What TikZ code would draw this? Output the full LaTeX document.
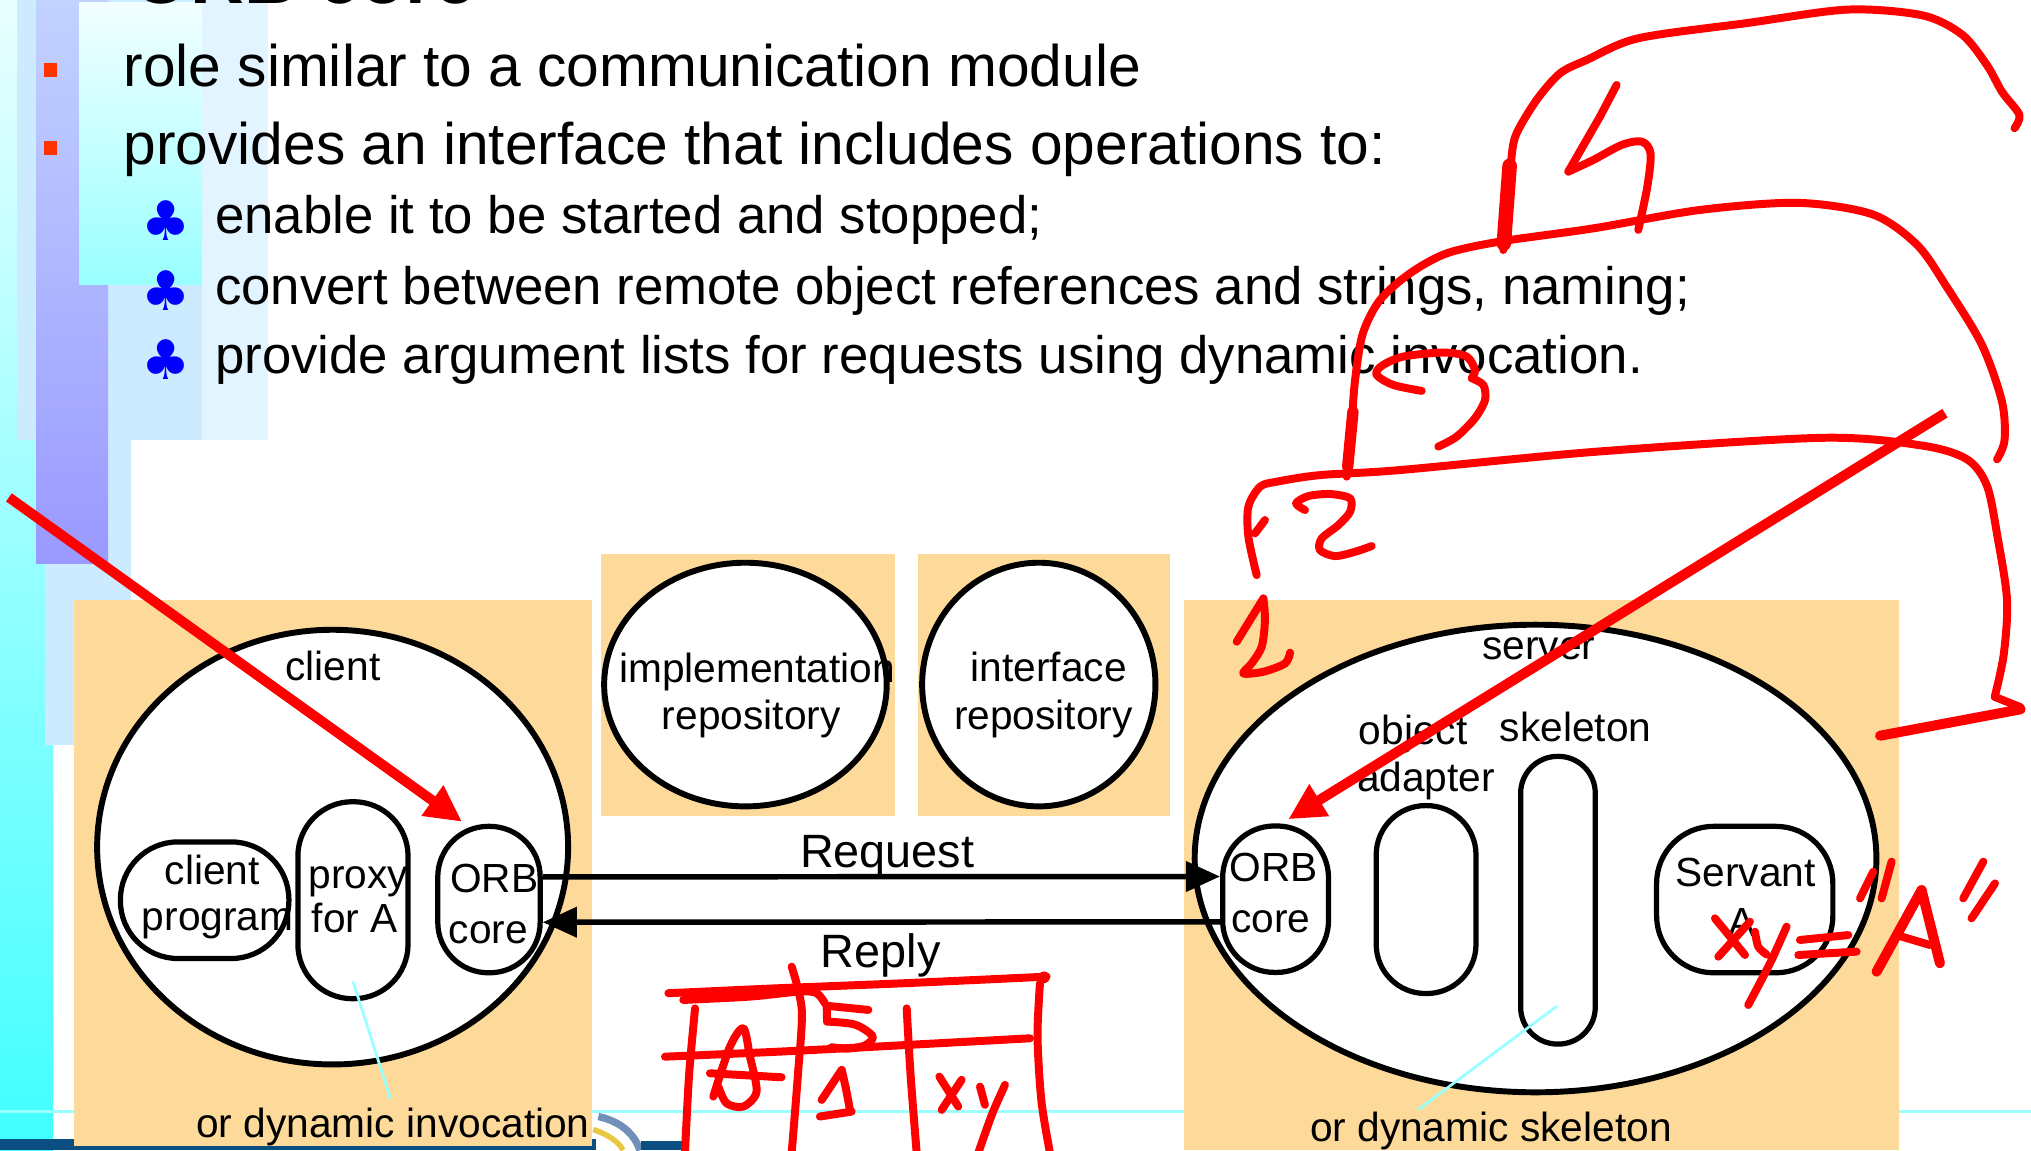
\documentclass[tikz,border=0pt]{standalone}
\usepackage{fontspec}
\setmainfont{Liberation Sans}
\newfontfamily\symfont{DejaVu Sans}
\usetikzlibrary{shapes.geometric,arrows.meta,calc}

\definecolor{orangebg}{HTML}{FDDA9A}
\definecolor{inkred}{HTML}{FF0000}
\definecolor{bulletred}{HTML}{FF3300}
\definecolor{clubblue}{HTML}{0000FF}
\definecolor{leadcyan}{HTML}{99FFFF}
\definecolor{paleblue}{HTML}{CCEBFF}
\definecolor{palerblue}{HTML}{E2F4FF}
\definecolor{cyantop}{HTML}{EAFFFF}
\definecolor{cyanbot}{HTML}{40FFFF}
\definecolor{violettop}{HTML}{C2D2FF}
\definecolor{violetbot}{HTML}{9A99FF}
\definecolor{glowtop}{HTML}{F2FFFF}
\definecolor{glowbot}{HTML}{99FFFF}
\definecolor{bandblue}{HTML}{0B4F82}
\definecolor{logoblue}{HTML}{7090B8}
\definecolor{logoyellow}{HTML}{E8C840}

\begin{document}
\begin{tikzpicture}[x=0.01cm,y=-0.01cm,
  orangebox/.style={fill=orangebg},
  bigell/.style={ellipse, draw=black, line width=1.3pt, fill=white, inner sep=0pt},
  pill/.style={rectangle, draw=black, line width=1.15pt, fill=white, inner sep=0pt},
  lbl/.style={font=\fontsize{8.93}{10}\selectfont, inner sep=0pt, anchor=base},
  msg/.style={font=\fontsize{10.27}{12}\selectfont, inner sep=0pt, anchor=base},
  bodytext/.style={font=\fontsize{12.88}{15}\selectfont, inner sep=0pt, anchor=base west},
  subtext/.style={font=\fontsize{11.58}{14}\selectfont, inner sep=0pt, anchor=base west},
  titletext/.style={font=\fontsize{16.36}{18}\selectfont\bfseries, inner sep=0pt, anchor=base west},
  sqbullet/.style={fill=bulletred, inner sep=0pt, minimum size=0.103cm},
  clubmark/.style={text=clubblue, inner sep=0pt, font=\symfont\fontsize{12}{12}\selectfont},
  conn/.style={draw=black, line width=1.2pt, -{Triangle[length=7.5pt,width=6.5pt]}},
  leader/.style={draw=leadcyan, line width=0.6pt},
  ink/.style={draw=inkred, line width=1.75pt, line cap=round, line join=round},
  inkarrow/.style={draw=inkred, line width=2.2pt, -{Triangle[length=8pt,width=7.7pt]}},
]
\clip (0,0) rectangle (1568,888);
\fill[white] (0,0) rectangle (1568,888);

% ---- slide template strip on the left ----
\shade[top color=cyantop, bottom color=cyanbot] (0,0) rectangle (41,888);
\fill[paleblue] (13,0) rectangle (207,340);
\fill[palerblue] (156,0) rectangle (207,340);
\fill[paleblue] (83.4,340) rectangle (101,435.4);
\fill[paleblue] (35,435.4) rectangle (101,575);
\shade[top color=violettop, bottom color=violetbot] (28,0) rectangle (83.4,435.4);
\shade[top color=glowtop, bottom color=glowbot] (61,2.3) rectangle (156,220);
\draw[leadcyan, line width=0.6pt] (0,858) -- (1568,858);
\fill[bandblue] (0,879) rectangle (460,888);
\draw[logoblue, line width=1.6pt] (462,862) .. controls (480,866) and (490,876) .. (494,888);
\draw[logoyellow, line width=1.2pt] (458,872) .. controls (470,876) and (478,882) .. (481,888);
\fill[bandblue] (495,881) rectangle (527,888);

% ---- title and bullet list ----
\node[titletext] (title) at (101.7,3) {ORB core};
\node[sqbullet] (b1) at (39,54) {};
\node[sqbullet] (b2) at (39,114.2) {};
\node[bodytext] (t1) at (94.8,66.5) {role similar to a communication module};
\node[bodytext] (t2) at (94.8,127) {provides an interface that includes operations to:};
\node[clubmark] (c1) at (128.5,170.6) {♣};
\node[clubmark] (c2) at (128.5,224) {♣};
\node[clubmark] (c3) at (128.5,278) {♣};
\node[subtext] (s1) at (165.4,180.2) {enable it to be started and stopped;};
\node[subtext] (s2) at (165.4,234.9) {convert between remote object references and strings, naming;};
\node[subtext] (s3) at (165.4,288) {provide argument lists for requests using dynamic invocation.};

% ---- component panels ----
\fill[orangebox] (57,463) rectangle (457,884.7);
\fill[orangebox] (464,428) rectangle (691,630);
\fill[orangebox] (709,428) rectangle (903,630);
\fill[orangebox] (914,463) rectangle (1466,888);

% ---- client side ----
\node[bigell, minimum width=3.634cm, minimum height=3.354cm] (clientE) at (256.8,654) {};
\node[pill, minimum width=1.30cm, minimum height=0.90cm, rounded corners=0.445cm] (cprog) at (158,695) {};
\node[pill, minimum width=0.85cm, minimum height=1.52cm, rounded corners=0.42cm] (proxy) at (272.5,695) {};
\node[pill, minimum width=0.79cm, minimum height=1.13cm, rounded corners=0.39cm] (orbC) at (377.5,694.5) {};
\node[lbl] (clientL) at (257,525) {client};
\node[lbl] (cprog1) at (164,683) {client};
\node[lbl] (cprog2) at (168,718.6) {program};
\node[lbl] (proxy1) at (276.6,686) {proxy};
\node[lbl] (proxy2) at (274,720) {for A};
\node[lbl] (orbC1) at (381.5,689) {ORB};
\node[lbl] (orbC2) at (377,728.8) {core};
\node[lbl] (dynInv) at (303.4,878) {or dynamic invocation};

% ---- repositories ----
\node[bigell, minimum width=2.18cm, minimum height=1.88cm] (implE) at (575.5,528.5) {};
\node[bigell, minimum width=1.80cm, minimum height=1.88cm] (ifaceE) at (802,528.5) {};
\node[lbl] (impl1) at (584.5,526.7) {implementation};
\node[lbl] (impl2) at (580,563.4) {repository};
\node[lbl] (iface1) at (809.6,526) {interface};
\node[lbl] (iface2) at (805.5,563) {repository};

% ---- server side ----
\node[bigell, minimum width=5.26cm, minimum height=3.608cm] (serverE) at (1185.5,662.8) {};
\node[pill, minimum width=0.817cm, minimum height=1.13cm, rounded corners=0.40cm] (orbS) at (984.8,694.2) {};
\node[pill, minimum width=0.77cm, minimum height=1.45cm, rounded corners=0.38cm] (adapter) at (1101,694.5) {};
\node[pill, minimum width=0.576cm, minimum height=2.22cm, rounded corners=0.285cm] (skel) at (1202.8,695) {};
\node[pill, minimum width=1.36cm, minimum height=1.13cm, rounded corners=0.44cm] (servant) at (1347,694.5) {};
\node[lbl] (serverL) at (1188,508.8) {server};
\node[lbl] (obj1) at (1091,575) {object};
\node[lbl] (obj2) at (1101,611.4) {adapter};
\node[lbl] (skelL) at (1216.5,572.4) {skeleton};
\node[lbl] (orbS1) at (983.6,680.2) {ORB};
\node[lbl] (orbS2) at (981,720) {core};
\node[lbl] (servant1) at (1347.7,684.6) {Servant};
\node[lbl] (servant2) at (1345,723) {A};
\node[lbl] (dynSkel) at (1151,881) {or dynamic skeleton};

% ---- leaders to the alternative names ----
\coordinate (invTip) at (301.6,848.5);
\coordinate (skelTip) at (1095,856.6);
\draw[leader] ($(proxy.south)+(0,-15.5)$) -- (invTip);
\draw[leader] ($(skel.south)+(-0.8,-31.3)$) -- (skelTip);

% ---- request / reply ----
\draw[conn] ($(orbC.east)+(0,-17.5)$) -- ($(orbS.west)+(0,-17.5)$);
\draw[conn] ($(orbS.west)+(0,17.5)$) -- ($(orbC.east)+(0,17.5)$);
\node[msg] (reqL) at (685,670) {Request};
\node[msg] (repL) at (680,747) {Reply};

% ---- red pen annotations ----
\coordinate (penA1) at (6.9,384);
\coordinate (penA2) at (356.7,634.4);
\coordinate (penB1) at (1501.6,319);
\coordinate (penB2) at (994.6,632.5);
\draw[inkarrow] (penA1) -- (penA2);
\draw[inkarrow] (penB1) -- (penB2);

% brackets over the server
\draw[ink] plot[smooth, tension=0.5] coordinates {(970.2,444) (963.8,414.4) (963.8,391.2) (972.8,375.8) (985.6,371.9) (1019.1,366.8) (1080.9,362.9) (1234,348.6) (1407,338) (1484,344) (1518.6,354.6) (1534,375) (1542,413.6) (1549.5,463) (1547,505) (1540,538)};
\draw[ink] (1540,538) -- (1560,546);
\draw[ink, line width=2.2pt] (1560,547.6) -- (1451.5,568);
\draw[ink] (968.9,411.8) -- (976.6,401.5);
\draw[ink] plot[smooth, tension=0.5] coordinates {(1039.7,368) (1043,335) (1046,295) (1052,258) (1065.4,231.6) (1088.6,211) (1116.9,195.6) (1158,186.5) (1230.1,176.3) (1312.4,162.1) (1388,156.6) (1445.7,165.5) (1480,189) (1503,221.6) (1530,266) (1545.6,310) (1547.6,339.8) (1541.8,354.6)};
\draw[ink, line width=2.5pt] (1040.5,360) -- (1044.5,318);
\draw[ink] plot[smooth, tension=0.5] coordinates {(1160.6,193) (1164.5,157) (1167,120.9) (1170.9,102.9) (1186.3,77.2) (1204.4,56.6) (1225,46.3) (1265,29.5) (1349.5,17.7) (1426.4,7.4) (1484,11.8) (1514.7,26.6) (1534,50.3) (1545.6,70.9) (1559,88.6) (1555.3,99)};
\draw[ink, line width=3.2pt] (1161,188) -- (1165.5,128);

% numbers 1 to 4
\draw[ink] (954.8,495.4) -- (975.4,462);
\draw[ink] plot[smooth, tension=0.5] coordinates {(975.4,462) (976.6,478.7) (974.1,499.3) (966.3,512.2) (959.9,519.9) (975.4,518.6) (992.1,512.2) (996,503.9)};
\draw[ink] plot[smooth, tension=0.5] coordinates {(1007.5,393.8) (1000.6,388.6) (1010.1,383) (1026.8,381.4) (1042.3,384.8) (1042.3,395.1) (1033.3,405.4) (1020.4,415.7) (1019.1,424.7) (1030.7,429.3) (1046.1,426) (1059,421.6)};
\draw[ink] plot[smooth, tension=0.5] coordinates {(1097.6,301.8) (1075.7,297.2) (1062.8,289.5) (1066.7,282.5) (1083.4,275.3) (1114.3,272.2) (1132.3,275.3) (1138.7,285.6) (1136.2,292)};
\draw[ink] plot[smooth, tension=0.5] coordinates {(1136.2,292) (1145.2,297.2) (1146.5,308.8) (1138.7,322.9) (1124.6,337.1) (1110.4,344.8)};
\draw[ink] (1248.1,65.6) -- (1235.2,90.1) -- (1210.8,132.5);
\draw[ink] plot[smooth, tension=0.5] coordinates {(1210.8,132.5) (1230.1,123.5) (1252,111.9) (1267.4,109.3) (1274.3,118.4) (1271.8,144.1) (1264.8,177.5)};

% xy = "A"
\draw[ink] (1324,709) -- (1347.2,737.3);
\draw[ink] (1351,711.6) -- (1326.6,738.6);
\draw[ink] plot[smooth, tension=0.5] coordinates {(1354.9,719.3) (1357.5,731) (1364,737)};
\draw[ink] plot[smooth, tension=0.5] coordinates {(1379.3,715.4) (1366.5,743.7) (1349.7,775.9)};
\draw[ink] (1389.6,725.7) -- (1427,721.9);
\draw[ink] (1388.3,737.3) -- (1433.4,734.7);
\draw[ink] (1446.2,673) -- (1436,693.6);
\draw[ink] (1460.4,665.2) -- (1452.7,693.6);
\draw[ink, line width=2.2pt] (1448.8,750.2) -- (1483.5,687.1) -- (1497.7,743.7);
\draw[ink] (1464.2,721.9) -- (1490,729.6);
\draw[ink] (1531.2,665.2) -- (1515.7,693.6);
\draw[ink] (1540.2,682) -- (1522.1,709);

% table under the reply
\draw[ink] plot[smooth, tension=0.5] coordinates {(516,766.8) (600,763) (700,759) (808,754)};
\fill[inkred] (806,754.5) circle (4.5);
\draw[ink] plot[smooth, tension=0.5] coordinates {(527.5,772) (579,769.4) (617.6,765.5) (630.5,766.8) (636.9,774.6)};
\draw[ink] plot[smooth, tension=0.5] coordinates {(536.6,778.5) (532,830) (528.8,890)};
\draw[ink] plot[smooth, tension=0.5] coordinates {(611.2,746.3) (619,779.7) (616,830) (611.2,890)};
\draw[ink] plot[smooth, tension=0.5] coordinates {(700,778.5) (703,830) (707.7,890)};
\draw[ink] plot[smooth, tension=0.5] coordinates {(802.9,759.2) (801,800) (804,850) (810.6,890)};
\draw[ink] plot[smooth, tension=0.5] coordinates {(513.4,815.8) (620,811) (795.2,801.6)};
\draw[ink] plot[smooth, tension=0.5] coordinates {(550.7,846.6) (563.6,808) (573.9,793.9) (579,815.7) (584.1,842.7) (573.9,854.3) (561,851.8) (554.6,838.9)};
\draw[ink] (548.1,828.6) -- (603.4,831.7);
\draw[ink] (670.4,779.7) -- (638.2,776.5) -- (638.5,788.7);
\draw[ink] plot[smooth, tension=0.5] coordinates {(638.5,788.7) (660,791) (673.7,800) (668,807) (655,809.5) (642,808.5)};
\draw[ink] (634.3,849.2) -- (649.8,826);
\draw[ink] plot[smooth, tension=0.5] coordinates {(649.8,826) (653,840) (656.2,856.9)};
\draw[ink] (633,862) -- (657.5,858.2);
\draw[ink] (725.2,831.2) -- (739.8,854.3);
\draw[ink] (742.4,833.7) -- (727,856.9);
\draw[ink] (756.6,838.9) -- (760.4,853);
\draw[ink] plot[smooth, tension=0.5] coordinates {(775.9,837.6) (766,860) (755.3,890)};
\end{tikzpicture}
\end{document}
